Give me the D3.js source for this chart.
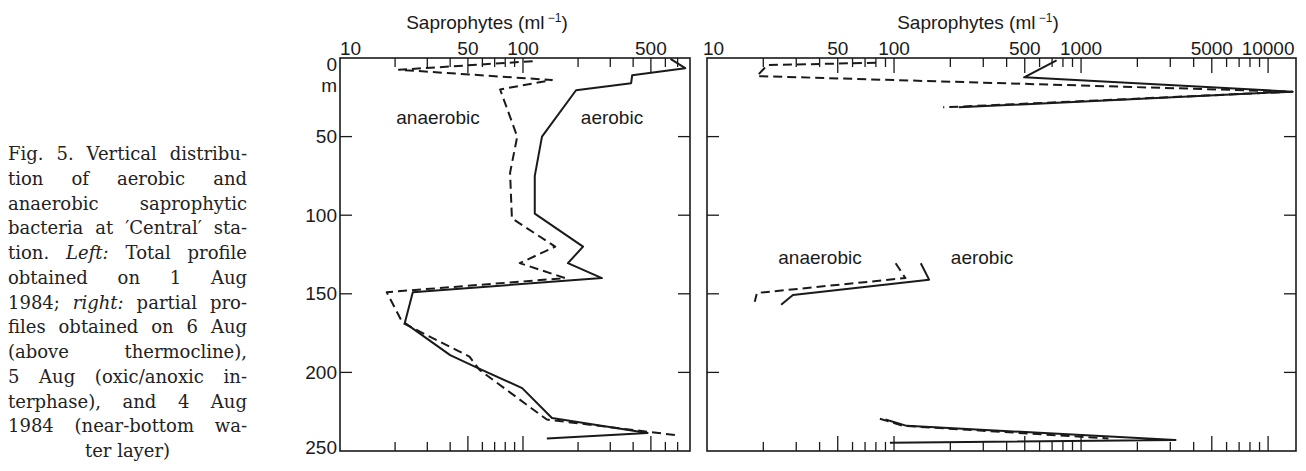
<!DOCTYPE html>
<html>
<head>
<meta charset="utf-8">
<script src="https://cdn.jsdelivr.net/npm/d3@7"></script>
<style>
  body { margin: 0; background: #fff; }
  #wrap { position: relative; width: 1306px; height: 471px; overflow: hidden; }
  .cap {
    position: absolute; left: 8px; width: 239px;
    font-family: "DejaVu Serif", serif; font-size: 18px; line-height: 25px;
    color: #222; text-align: justify; text-align-last: justify;
  }
  .cap.last { text-align: center; text-align-last: center; }
  svg { position: absolute; left: 0; top: 0; }
</style>
</head>
<body>
<div id="wrap"></div>
<script>
// depth axis (m)
const depthTicks = [50, 100, 150, 200];
const depthLabels = [0, 50, 100, 150, 200, 250];
// saprophyte axis labels (ml-1)
const leftTickLabels = [10, 50, 100, 500];
const rightTickLabels = [10, 50, 100, 500, 1000, 5000, 10000];

// left panel: total profile, 1 Aug 1984
const leftAerDepth = [0.6, 6.5, 11, 16, 20.5, 50, 75, 99, 120, 130.5, 140, 149, 168.5, 189, 197, 210, 229, 238.5, 242];
const leftAerCount = [640, 770, 395, 390, 195, 127, 116, 116, 213, 176, 270, 25, 22.6, 40, 56, 99, 144, 480, 135];
const leftAnaDepth = [2, 7.5, 14, 20, 50, 73, 102, 120, 130.5, 140, 149, 168.5, 190, 198.5, 230, 240];
const leftAnaCount = [113, 21, 144, 75, 93, 85, 87, 150, 96, 170, 18, 22, 51, 58, 135, 695];

// right panel: partial profiles (6 Aug, 5 Aug, 4 Aug)
const rightAerTopDepth = [1.5, 12.3, 21.4, 31.4];
const rightAerTopCount = [740, 496, 13500, 222];
const rightAnaTopDepth = [3, 4.5, 11.5, 21.4, 31.4];
const rightAnaTopCount = [80, 21, 18.5, 13500, 183];
const rightAerMidDepth = [130.6, 141, 150.8, 157];
const rightAerMidCount = [139, 154, 28.8, 24.9];
const rightAnaMidDepth = [130.6, 140, 149.5, 155];
const rightAnaMidCount = [102, 115, 18.5, 18];
const rightAerBotDepth = [230, 234, 243, 244.7];
const rightAerBotCount = [90, 117, 3200, 95];
const rightAnaBotDepth = [229.5, 234, 242];
const rightAnaBotCount = [84, 112, 1400];

const captionLines = [
  "Fig. 5. Vertical distribu-",
  "tion of aerobic and",
  "anaerobic saprophytic",
  "bacteria at ′Central′ sta-",
  "tion. <i>Left:</i> Total profile",
  "obtained on 1 Aug",
  "1984; <i>right:</i> partial pro-",
  "files obtained on 6 Aug",
  "(above thermocline),",
  "5 Aug (oxic/anoxic in-",
  "terphase), and 4 Aug",
  "1984 (near-bottom wa-",
  "ter layer)"
];

const wrap = d3.select("#wrap");

wrap.selectAll(".cap")
  .data(captionLines)
  .enter().append("div")
  .attr("class", (d, i) => i === captionLines.length - 1 ? "cap last" : "cap")
  .style("top", (d, i) => (141 + i * 24.75) + "px")
  .html(d => d);

const svg = wrap.append("svg")
  .attr("width", 1306)
  .attr("height", 471);

const font = "'Liberation Sans', Arial, sans-serif";
const ink = "#1a1a1a";

const y = d3.scaleLinear().domain([0, 250]).range([58, 451]);
const xL = d3.scaleLog().domain([10, 818]).range([340, 690]);
const xR = d3.scaleLog().domain([10, 14100]).range([707, 1296]);

function drawPanel(x, labels, title, titleX) {
  const [x0, x1] = x.range();
  const [y0, y1] = y.range();
  const g = svg.append("g");

  // frame
  g.append("rect")
    .attr("x", x0).attr("y", y0)
    .attr("width", x1 - x0).attr("height", y1 - y0)
    .attr("fill", "none").attr("stroke", ink).attr("stroke-width", 1.6);

  // log ticks, top and bottom, pointing inward
  const ticks = x.ticks().filter(v => v > 10 && x(v) < x1 - 2);
  const len = v => labels.includes(v) ? 15 : 9;
  g.selectAll(".tt").data(ticks).enter().append("line")
    .attr("x1", d => x(d)).attr("x2", d => x(d))
    .attr("y1", y0).attr("y2", d => y0 + len(d))
    .attr("stroke", ink).attr("stroke-width", 1.3);
  g.selectAll(".tb").data(ticks).enter().append("line")
    .attr("x1", d => x(d)).attr("x2", d => x(d))
    .attr("y1", y1).attr("y2", d => y1 - len(d))
    .attr("stroke", ink).attr("stroke-width", 1.3);

  // depth ticks on both sides
  g.selectAll(".dl").data(depthTicks).enter().append("line")
    .attr("x1", x0).attr("x2", x0 + 12)
    .attr("y1", d => y(d)).attr("y2", d => y(d))
    .attr("stroke", ink).attr("stroke-width", 1.3);
  g.selectAll(".dr").data(depthTicks).enter().append("line")
    .attr("x1", x1).attr("x2", x1 - 12)
    .attr("y1", d => y(d)).attr("y2", d => y(d))
    .attr("stroke", ink).attr("stroke-width", 1.3);

  // value labels
  g.selectAll(".vl").data(labels).enter().append("text")
    .attr("x", d => d === 10 ? x(d) + (x0 === 340 ? 0 : -4) : x(d))
    .attr("y", 55)
    .attr("text-anchor", d => d === 10 ? "start" : "middle")
    .style("font-family", font).style("font-size", "19px").attr("fill", ink)
    .text(d => d);

  // title
  const t = g.append("text")
    .attr("x", titleX).attr("y", 29)
    .attr("text-anchor", "middle")
    .style("font-family", font).style("font-size", "19px").attr("fill", ink);
  t.append("tspan").text(title + "  (ml");
  t.append("tspan").attr("dy", -7).style("font-size", "12px").text(" −1");
  t.append("tspan").attr("dy", 7).text(")");
  return g;
}

drawPanel(xL, leftTickLabels, "Saprophytes", 487);
drawPanel(xR, rightTickLabels, "Saprophytes", 978);

// depth labels on the left panel
svg.selectAll(".depth").data(depthLabels).enter().append("text")
  .attr("x", 337)
  .attr("y", d => d === 0 ? y(d) + 6 : (d === 250 ? y(d) - 4 : y(d)))
  .attr("dy", "0.35em")
  .attr("text-anchor", "end")
  .style("font-family", font).style("font-size", "19px").attr("fill", ink)
  .text(d => d);
svg.append("text")
  .attr("x", 337).attr("y", 85).attr("dy", "0.35em")
  .attr("text-anchor", "end")
  .style("font-family", font).style("font-size", "19px").attr("fill", ink)
  .text("m");

function profile(x, depths, counts, dashed) {
  const pts = depths.map((d, i) => [counts[i], d]);
  const line = d3.line().x(p => x(p[0])).y(p => y(p[1]));
  svg.append("path")
    .attr("d", line(pts))
    .attr("fill", "none")
    .attr("stroke", ink)
    .attr("stroke-width", 2)
    .attr("stroke-linejoin", "round")
    .attr("stroke-dasharray", dashed ? "9,5" : null);
}

profile(xL, leftAerDepth, leftAerCount, false);
profile(xL, leftAnaDepth, leftAnaCount, true);
profile(xR, rightAerTopDepth, rightAerTopCount, false);
profile(xR, rightAnaTopDepth, rightAnaTopCount, true);
profile(xR, rightAerMidDepth, rightAerMidCount, false);
profile(xR, rightAnaMidDepth, rightAnaMidCount, true);
profile(xR, rightAerBotDepth, rightAerBotCount, false);
profile(xR, rightAnaBotDepth, rightAnaBotCount, true);

// series labels
const seriesLabels = [
  { text: "anaerobic", x: 438, y: 117 },
  { text: "aerobic", x: 612, y: 117 },
  { text: "anaerobic", x: 820, y: 257 },
  { text: "aerobic", x: 982, y: 257 }
];
svg.selectAll(".sl").data(seriesLabels).enter().append("text")
  .attr("x", d => d.x).attr("y", d => d.y).attr("dy", "0.35em")
  .attr("text-anchor", "middle")
  .style("font-family", font).style("font-size", "19px").attr("fill", ink)
  .text(d => d.text);
</script>
</body>
</html>
